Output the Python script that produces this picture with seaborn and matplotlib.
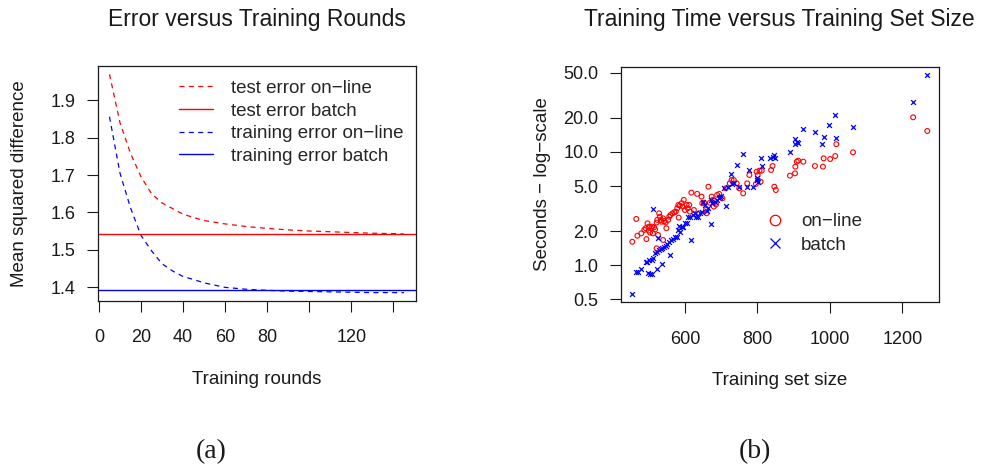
import numpy as np
import pandas as pd
import matplotlib
matplotlib.use("Agg")
import matplotlib.pyplot as plt
from matplotlib.lines import Line2D
import seaborn as sns

# ---------------- data: panel (a) ----------------
rounds = [5, 10, 15, 20, 25, 30, 35, 40, 45, 50, 60, 70, 80, 90, 100, 110, 120, 130, 140, 145]
test_online = [1.970, 1.840, 1.758, 1.695, 1.650, 1.625, 1.610, 1.595, 1.586, 1.578,
               1.569, 1.562, 1.557, 1.553, 1.550, 1.548, 1.546, 1.544, 1.543, 1.542]
train_online = [1.856, 1.705, 1.612, 1.538, 1.497, 1.462, 1.443, 1.428, 1.420, 1.411,
                1.399, 1.394, 1.391, 1.389, 1.388, 1.387, 1.386, 1.385, 1.385, 1.385]
test_batch = 1.541
train_batch = 1.391
a_xticks = [0, 20, 40, 60, 80, 100, 120, 140]
a_xticklabels = ["0", "20", "40", "60", "80", "", "120", ""]
a_yticks = [1.4, 1.5, 1.6, 1.7, 1.8, 1.9]
a_legend = ["test error on\u2212line", "test error batch",
            "training error on\u2212line", "training error batch"]

# ---------------- data: panel (b) ----------------
online_size = [455, 466, 469, 480, 488, 492, 494, 497, 500, 501,
               504, 507, 510, 512, 515, 518, 522, 524, 526, 529,
               531, 534, 536, 540, 540, 543, 547, 549, 554, 557,
               560, 566, 571, 575, 579, 582, 583, 586, 591, 594,
               597, 600, 605, 608, 612, 614, 618, 625, 634, 640,
               646, 648, 653, 658, 660, 665, 669, 674, 677, 680,
               686, 689, 695, 704, 713, 724, 729, 735, 743, 750,
               761, 772, 778, 796, 798, 801, 806, 809, 812, 838,
               842, 847, 851, 890, 904, 905, 909, 913, 927, 959,
               981, 983, 1001, 1015, 1018, 1064, 1230, 1269, 522]
online_sec = [1.61, 2.56, 1.82, 1.91, 2.05, 2.12, 1.70, 2.34, 2.02, 2.19,
              1.94, 2.12, 2.19, 1.91, 2.16, 2.07, 2.38, 2.51, 1.85, 2.87,
              2.68, 2.51, 2.42, 2.59, 1.67, 2.45, 2.38, 2.12, 2.51, 2.68,
              2.77, 2.87, 2.93, 2.97, 3.18, 3.40, 2.63, 3.36, 3.52, 3.29,
              3.77, 3.07, 3.40, 3.18, 3.40, 2.97, 4.37, 3.07, 4.26, 2.87,
              4.03, 3.52, 3.56, 3.07, 2.87, 4.93, 3.56, 4.03, 3.77, 3.29,
              3.44, 4.17, 4.26, 3.89, 4.77, 5.28, 5.65, 5.65, 5.28, 4.77,
              4.31, 5.28, 6.25, 5.21, 6.69, 6.25, 6.83, 5.46, 6.83, 6.92,
              7.51, 4.93, 4.61, 6.17, 6.47, 7.41, 8.20, 8.37, 8.20, 7.51,
              7.41, 8.77, 8.65, 9.20, 11.7, 9.91, 20.2, 15.3, 1.41]
batch_size = [455, 466, 471, 480, 492, 496, 501, 497, 505, 510,
              508, 512, 517, 522, 524, 529, 533, 537, 538, 542,
              547, 551, 556, 559, 563, 568, 573, 577, 582, 583,
              588, 591, 595, 600, 605, 609, 614, 617, 623, 628,
              632, 637, 641, 648, 651, 655, 660, 665, 671, 673,
              676, 683, 688, 693, 697, 701, 709, 714, 720, 727,
              731, 736, 743, 750, 761, 772, 777, 789, 798, 800,
              803, 809, 812, 835, 844, 849, 847, 890, 904, 904,
              909, 913, 927, 959, 978, 983, 999, 1013, 1017, 1064,
              1230, 1269, 512, 526]
batch_sec = [0.56, 0.87, 0.87, 0.92, 1.06, 1.07, 1.11, 0.85, 0.83, 0.83,
             1.11, 1.15, 1.27, 0.92, 1.32, 1.36, 1.38, 1.03, 1.41, 1.46,
             1.48, 1.54, 1.61, 1.23, 1.67, 1.69, 1.79, 1.76, 2.05, 2.22,
             1.98, 2.16, 2.19, 2.38, 2.38, 2.68, 2.68, 1.67, 2.77, 2.87,
             2.68, 2.65, 2.87, 2.97, 3.64, 3.40, 3.03, 3.18, 2.30, 3.77,
             3.52, 3.64, 3.77, 3.95, 4.03, 4.11, 4.77, 3.35, 4.93, 6.38,
             5.21, 5.28, 7.66, 4.93, 9.52, 4.93, 6.92, 4.93, 5.65, 5.85,
             5.46, 8.77, 7.51, 8.77, 9.07, 8.77, 9.39, 9.91, 12.9, 11.7,
             12.3, 12.1, 15.8, 14.9, 11.7, 13.6, 17.3, 21.1, 13.4, 16.5,
             27.6, 47.3, 3.13, 1.73]
b_xticks = [600, 800, 1000, 1200]
b_yticks = [0.5, 1.0, 2.0, 5.0, 10.0, 20.0, 50.0]
b_legend = ["on\u2212line", "batch"]

# ---------------- style ----------------
sns.set_theme(style="white")
plt.rcParams["font.family"] = ["Liberation Sans", "DejaVu Sans"]
plt.rcParams["axes.unicode_minus"] = True

FS = 13
LFS = 13.5
TFS = 16.5
INK = "#1a1a1a"
W, H = 981, 469
fig = plt.figure(figsize=(W / 100, H / 100), dpi=100)

def px_axes(l, t, r, b):
    return fig.add_axes([l / W, 1 - b / H, (r - l) / W, (b - t) / H])

ax1 = px_axes(97.7, 66, 415.7, 301)
ax2 = px_axes(620.7, 66.7, 938.7, 302.3)

for ax in (ax1, ax2):
    for s in ax.spines.values():
        s.set_visible(True)
        s.set_color(INK)
        s.set_linewidth(0.9)
    ax.tick_params(axis="both", which="major", direction="out", length=8, width=0.8,
                   color=INK, labelsize=FS, labelcolor=INK,
                   bottom=True, left=True)
    ax.tick_params(axis="x", pad=12.5)
    ax.tick_params(axis="y", pad=8)
    ax.grid(False)

# ---------------- panel (a) ----------------
dash = (0, (4, 3.5))
sns.lineplot(x=rounds, y=test_online, ax=ax1, color="#ff0000", linestyle=dash, linewidth=0.9)
sns.lineplot(x=rounds, y=train_online, ax=ax1, color="#0000ff", linestyle=dash, linewidth=0.9)
ax1.axhline(test_batch, color="#ff0000", linewidth=1.0)
ax1.axhline(train_batch, color="#0000ff", linewidth=1.0)
ax1.set_xlim(-0.6, 150.6)
ax1.set_ylim(1.3625, 1.992)
ax1.set_xticks(a_xticks)
ax1.set_xticklabels(a_xticklabels)
ax1.set_yticks(a_yticks)
ax1.set_yticklabels([f"{v:.1f}" for v in a_yticks])
ax1.set_xlabel("Training rounds", fontsize=LFS, color=INK)
ax1.set_ylabel("Mean squared difference", fontsize=LFS, color=INK)
ax1.xaxis.set_label_coords(0.5, -0.30)
ax1.yaxis.set_label_coords(-0.22, 0.5)
ax1.set_title("Error versus Training Rounds", fontsize=TFS, pad=29, color=INK)

handles_a = [
    Line2D([], [], color="#ff0000", linestyle=dash, linewidth=0.9),
    Line2D([], [], color="#ff0000", linewidth=1.0),
    Line2D([], [], color="#0000ff", linestyle=dash, linewidth=0.9),
    Line2D([], [], color="#0000ff", linewidth=1.0),
]
ax1.legend(handles_a, a_legend, loc="upper left", bbox_to_anchor=(0.256, 0.942),
           frameon=False, fontsize=LFS, handlelength=1.81, handletextpad=0.96,
           labelspacing=0.3, borderpad=0, borderaxespad=0)

# ---------------- panel (b) ----------------
sns.scatterplot(x=online_size, y=online_sec, ax=ax2, marker="o", s=12,
                facecolor="none", edgecolor="#ff0000", linewidth=0.8)
sns.scatterplot(x=batch_size, y=batch_sec, ax=ax2, marker="x", s=12,
                color="#0000ff", linewidth=0.9)
ax2.set_yscale("log")
ax2.set_xlim(423, 1300.5)
ax2.set_ylim(0.4704, 56.5)
ax2.set_xticks(b_xticks)
ax2.set_xticklabels([str(v) for v in b_xticks])
ax2.set_yticks(b_yticks)
ax2.set_yticklabels([f"{v:.1f}" for v in b_yticks])
ax2.yaxis.set_minor_locator(matplotlib.ticker.NullLocator())
ax2.set_xlabel("Training set size", fontsize=LFS, color=INK)
ax2.set_ylabel("Seconds \u2212 log\u2212scale", fontsize=LFS, color=INK)
ax2.xaxis.set_label_coords(0.5, -0.297)
ax2.yaxis.set_label_coords(-0.22, 0.5)
ax2.set_title("Training Time versus Training Set Size", fontsize=TFS, pad=29, color=INK)

handles_b = [
    Line2D([], [], linestyle="none", marker="o", markersize=7.5, markerfacecolor="none",
           markeredgecolor="#ff0000", markeredgewidth=0.9),
    Line2D([], [], linestyle="none", marker="x", markersize=7.5, color="#0000ff",
           markeredgewidth=0.9),
]
ax2.legend(handles_b, b_legend, loc="upper left", bbox_to_anchor=(0.457, 0.379),
           frameon=False, fontsize=LFS, handlelength=0.96, handletextpad=0.9,
           labelspacing=0.36, borderpad=0, borderaxespad=0)

# ---------------- sub-captions ----------------
fig.text(211 / W, 1 - 452 / H, "(a)", ha="center", va="center", fontsize=20,
         family=["Liberation Serif", "DejaVu Serif"], color=INK)
fig.text(755 / W, 1 - 452 / H, "(b)", ha="center", va="center", fontsize=20,
         family=["Liberation Serif", "DejaVu Serif"], color=INK)

fig.savefig("out.png", dpi=100, facecolor="white")
